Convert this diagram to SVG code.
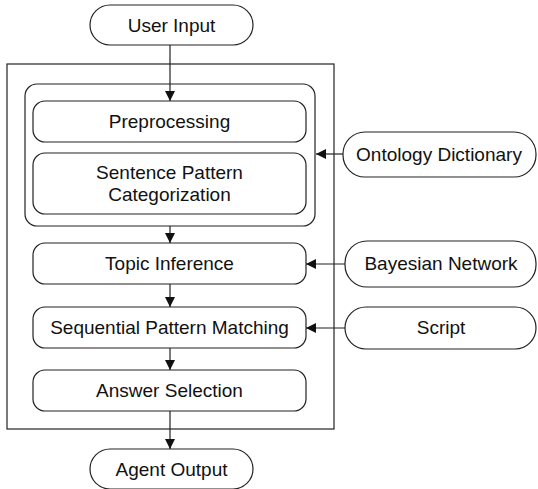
<svg xmlns="http://www.w3.org/2000/svg" width="538" height="489" viewBox="0 0 538 489">
<style>
.box{fill:#fff;stroke:#222;stroke-width:1.2}
.t{font-family:"Liberation Sans",Arial,sans-serif;font-size:19px;fill:#111;text-anchor:middle}
.c{stroke:#222;stroke-width:1.2;fill:none;marker-end:url(#ah)}
</style>
<defs>
<marker id="ah" viewBox="0 0 10 10" refX="10" refY="5" markerWidth="11" markerHeight="10" markerUnits="userSpaceOnUse" orient="auto">
<path d="M0,0 L10,5 L0,10 z" fill="#111"/>
</marker>
</defs>
<rect width="538" height="489" fill="#fff"/>
<g id="container">
<rect x="7" y="64" width="327" height="365" fill="none" stroke="#222" stroke-width="1.2"/>
</g>
<g id="group">
<rect class="box" x="25" y="84" width="290" height="142" rx="12"/>
</g>
<g id="user-input"><rect class="box" x="90" y="5" width="163" height="40" rx="20"/><text class="t" x="171.5" y="32">User Input</text></g>
<g id="preprocessing"><rect class="box" x="33" y="101" width="273" height="41" rx="12"/><text class="t" x="169.5" y="128">Preprocessing</text></g>
<g id="sentence"><rect class="box" x="33" y="153" width="273" height="61" rx="12"/><text class="t" x="169.5" y="179">Sentence Pattern</text><text class="t" x="169.5" y="201">Categorization</text></g>
<g id="topic"><rect class="box" x="33" y="243" width="273" height="41" rx="12"/><text class="t" x="169.5" y="270">Topic Inference</text></g>
<g id="sequential"><rect class="box" x="33" y="307" width="273" height="41" rx="12"/><text class="t" x="169.5" y="334">Sequential Pattern Matching</text></g>
<g id="answer"><rect class="box" x="33" y="370" width="273" height="41" rx="12"/><text class="t" x="169.5" y="397">Answer Selection</text></g>
<g id="agent-output"><rect class="box" x="90" y="449" width="163" height="40" rx="20"/><text class="t" x="171.5" y="476">Agent Output</text></g>
<g id="ontology"><rect class="box" x="343" y="132" width="193" height="45" rx="22"/><text class="t" x="439" y="161">Ontology Dictionary</text></g>
<g id="bayesian"><rect class="box" x="345" y="241" width="191" height="46" rx="22"/><text class="t" x="441" y="270">Bayesian Network</text></g>
<g id="script"><rect class="box" x="345" y="307" width="191" height="42" rx="21"/><text class="t" x="441" y="334">Script</text></g>
<g id="connectors">
<line class="c" x1="170" y1="45" x2="170" y2="101"/>
<line class="c" x1="170" y1="226" x2="170" y2="243"/>
<line class="c" x1="170" y1="284" x2="170" y2="307"/>
<line class="c" x1="170" y1="348" x2="170" y2="370"/>
<line class="c" x1="170" y1="411" x2="170" y2="449"/>
<line class="c" x1="343" y1="154" x2="316" y2="154"/>
<line class="c" x1="345" y1="264" x2="306" y2="264"/>
<line class="c" x1="345" y1="328" x2="306" y2="328"/>
</g>
</svg>
